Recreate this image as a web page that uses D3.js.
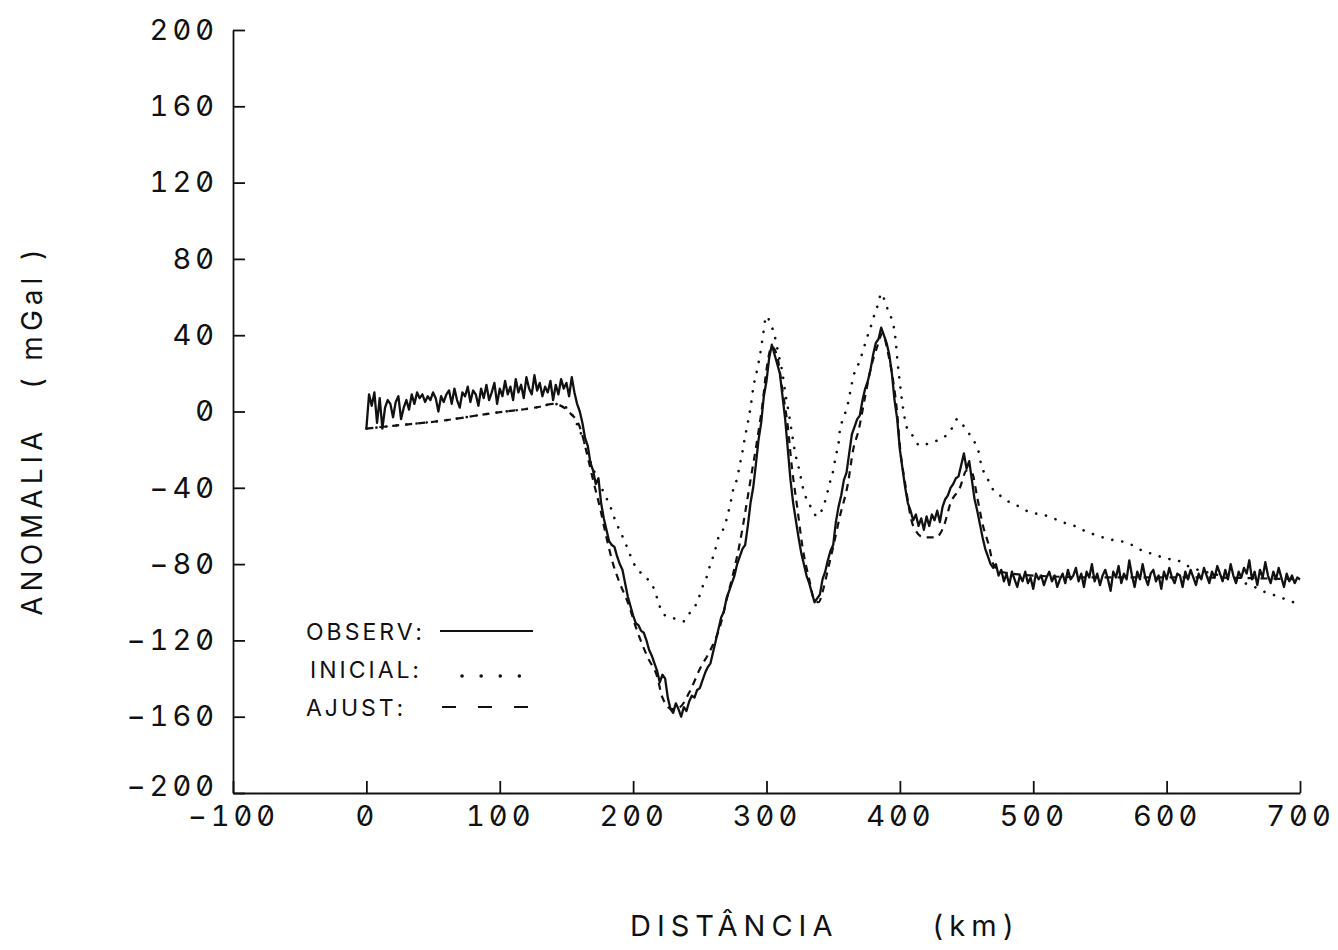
<!DOCTYPE html>
<html>
<head>
<meta charset="utf-8">
<script src="https://cdnjs.cloudflare.com/ajax/libs/d3/7.8.5/d3.min.js"></script>
<style>
  body { margin: 0; background: #fff; }
  svg text { font-family: Inter, "DejaVu Sans", sans-serif; font-feature-settings: "zero", "tnum"; fill: #111; white-space: pre; }
</style>
</head>
<body>
<div id="chart"></div>
<script>
// observed anomaly, one value every 2 km from 0 to 700 km
var obsStep = 2
var observed = [
  -9, 9, 3, 10, -6, 7, -9, 2, 6, 4,
  -3, 5, 8, -4, 2, 6, 1, 9, 4, 10,
  7, 9, 5, 8, 6, 10, 7, 0, 8, 5,
  9, 11, 4, 12, 6, 2, 10, 8, 13, 5,
  11, 9, 3, 12, 7, 14, 6, 10, 15, 4,
  12, 8, 16, 9, 13, 6, 17, 10, 14, 7,
  18, 12, 9, 19, 11, 15, 8, 13, 10, 16,
  6, 14, 9, 17, 12, 15, 8, 18,
  10, 4, 0, -6, -14, -18, -27, -31, -38, -35,
  -48, -56, -62, -68, -70, -71, -76, -80, -83, -90,
  -97, -102, -107, -111, -112, -115, -116, -120, -125, -128,
  -132, -136, -142, -138, -140, -150, -156, -158, -153, -156,
  -160, -155, -157, -152, -149, -150, -146, -145, -141, -137,
  -134, -132, -126, -120, -114, -108, -105, -98, -94, -90,
  -86, -80, -76, -72, -70, -60, -48, -40, -28, -15,
  -6, 8, 16, 28, 35, 30, 25, 20, 8, -4,
  -20, -36, -48, -57, -66, -74, -80, -86, -90, -95,
  -100, -98, -96, -88, -84, -78, -73, -70, -58, -50,
  -44, -36, -32, -22, -12, -8, -4, -2, 6, 12,
  16, 22, 30, 36, 38, 44, 40, 36, 30, 20,
  6, -4, -20, -30, -40, -48, -52, -57, -54, -60,
  -56, -62, -55, -60, -54, -57, -52, -58, -50, -46,
  -44, -40, -38, -35, -34, -28, -22, -30, -26, -36,
  -46, -52, -59, -66, -72, -76, -80, -82,
  -80, -86, -83, -89, -85, -91, -84, -88, -92, -86,
  -89, -84, -90, -87, -93, -85, -88, -86, -91, -87,
  -84, -89, -86, -92, -88, -85, -90, -83, -88, -86,
  -82, -89, -85, -92, -84, -87, -80, -89, -85, -91,
  -86, -83, -88, -94, -84, -87, -81, -90, -85, -88,
  -78, -86, -92, -84, -88, -80, -87, -91, -85, -83,
  -89, -86, -93, -84, -88, -82, -87, -90, -85, -86,
  -92, -84, -88, -83, -87, -91, -85, -88, -82, -86,
  -90, -84, -87, -81, -85, -89, -83, -88, -80, -86,
  -90, -84, -87, -82, -85, -78, -88, -84, -91, -83,
  -87, -79, -86, -90, -84, -88, -82, -87, -92, -85,
  -89, -86, -90, -87, -88
]

// initial model (dotted)
var initialKm = [0, 20, 55, 93, 130, 140, 150, 160, 170, 175, 179, 183, 186, 193, 196, 200, 205, 211, 215, 219, 222, 229, 238,
  243, 248, 252, 255, 258, 261, 264, 268, 271, 273, 275, 278, 280, 282, 284, 286, 288, 290, 293, 295, 297, 300,
  303, 306, 309, 312, 314, 316, 319, 321, 325, 327, 334, 338, 343, 348, 350, 352, 354, 355, 358, 361, 363, 365,
  369, 372, 375, 378, 381, 384, 386, 390, 394, 396, 397, 398, 400, 403, 405, 410, 415, 424, 432, 438, 443, 450,
  456, 459, 461, 465, 469, 475, 481, 490, 498, 507, 515, 522, 531, 540, 548, 557, 566, 574, 582, 591, 599, 608,
  616, 640, 666, 675, 684, 691, 700]
var initialVal = [-9, -7.5, -5, -1, 2.5, 4, 2, -10, -30, -38, -44, -50, -56, -67, -72, -79, -84, -88, -92, -100, -106, -108, -110,
  -105, -100, -92, -87, -80, -74, -66, -61, -54, -48, -41, -35, -28, -21, -13, -6, 2, 12, 22, 29, 38, 50,
  46, 40, 30, 20, 10, 2, -11, -20, -32, -39, -51, -55, -49, -36, -31, -23, -17, -10, -3, 4, 11, 18,
  25, 31, 38, 44, 51, 57, 62, 55, 48, 42, 36, 28, 15, -1, -8, -13, -18, -16, -14, -10, -4, -10,
  -16, -21, -28, -34, -40, -44, -47, -50, -53, -54, -56, -58, -60, -63, -65, -67, -68, -70, -73, -75, -77, -78,
  -81, -86, -92, -95, -97, -99, -101]

// adjusted model (dashed)
var adjustKm = [0, 20, 55, 93, 130, 140, 153, 160, 166, 170, 175, 180, 185, 190, 196, 203, 211, 218, 222, 229, 235,
  243, 250, 258, 265, 270, 275, 280, 284, 288, 293, 297, 300, 304, 308, 312, 316, 319, 323, 327, 332, 336, 339,
  343, 346, 350, 355, 361, 365, 369, 374, 378, 383, 387, 391, 395, 398, 400, 404, 410, 418, 427, 433, 438, 445,
  450, 454, 458, 462, 467, 470, 476, 500, 550, 620, 700]
var adjustVal = [-9, -7.5, -5, -1, 2.5, 4, -1, -8, -24, -36, -50, -66, -80, -90, -100, -115, -129, -139, -150, -156, -155,
  -146, -135, -125, -113, -99, -85, -69, -53, -36, -15, 4, 22, 34, 29, 11, -8, -29, -50, -71, -88, -99, -100,
  -92, -83, -71, -55, -38, -20, -10, 8, 22, 34, 41, 31, 16, -1, -18, -38, -60, -66, -66, -60, -48, -40,
  -31, -32, -45, -59, -71, -80, -84, -86, -87, -87, -88]

var xTicks = [-100, 0, 100, 200, 300, 400, 500, 600, 700]
var yTicks = [-200, -160, -120, -80, -40, 0, 40, 80, 120, 160, 200]

var legendItems = [
  { name: "OBSERV:", style: "solid" },
  { name: "INICIAL:", style: "dot" },
  { name: "AJUST:", style: "dash" }
]

const width = 1338
const height = 950

const svg = d3.select("#chart").append("svg")
  .attr("width", width)
  .attr("height", height)

const x = d3.scaleLinear().domain([-100, 700]).range([233, 1300])
const y = d3.scaleLinear().domain([-200, 200]).range([793, 30])

// axes
const yAxis = d3.axisLeft(y)
  .tickValues(yTicks)
  .tickSizeInner(-12)
  .tickSizeOuter(0)
  .tickPadding(15)
  .tickFormat(d3.format("d"))

const xAxis = d3.axisBottom(x)
  .tickValues(xTicks)
  .tickSizeInner(-12)
  .tickSizeOuter(0)
  .tickPadding(17)
  .tickFormat(d3.format("d"))

const gy = svg.append("g").attr("transform", "translate(233,0)").call(yAxis)
const gx = svg.append("g").attr("transform", "translate(0,793)").call(xAxis)

svg.selectAll(".domain, .tick line")
  .attr("stroke", "#111")
  .attr("stroke-width", 1.8)

gy.selectAll("text")
  .attr("font-size", 29)
  .attr("letter-spacing", 4)
  .attr("fill", "#111")
// bottom label sits a little higher so it clears the -100 below it
gy.selectAll("text")
  .filter(function(d) { return d == -200 })
  .attr("dy", "0.1em")

gx.selectAll("text")
  .attr("font-size", 29)
  .attr("letter-spacing", 4)
  .attr("fill", "#111")
  .attr("dy", "0.55em")

// axis titles
svg.append("text")
  .attr("transform", "translate(42,430) rotate(-90)")
  .attr("text-anchor", "middle")
  .attr("font-size", 28)
  .attr("letter-spacing", 5)
  .text("ANOMALIA   ( mGal )")

svg.append("text")
  .attr("x", 630)
  .attr("y", 936)
  .attr("font-size", 29)
  .attr("letter-spacing", 6)
  .text("DISTÂNCIA")

svg.append("text")
  .attr("x", 932)
  .attr("y", 936)
  .attr("font-size", 29)
  .attr("letter-spacing", 6)
  .text("(km)")

// curves
const obsLine = d3.line()
  .x(function(d, i) { return x(i * obsStep) })
  .y(function(d) { return y(d) })

const pairLine = d3.line()
  .x(function(d) { return x(d[0]) })
  .y(function(d) { return y(d[1]) })
  .curve(d3.curveMonotoneX)

svg.append("path")
  .datum(d3.zip(initialKm, initialVal))
  .attr("d", pairLine)
  .attr("fill", "none")
  .attr("stroke", "#111")
  .attr("stroke-width", 2.6)
  .attr("stroke-linecap", "round")
  .attr("stroke-dasharray", "0.1,10")

svg.append("path")
  .datum(d3.zip(adjustKm, adjustVal))
  .attr("d", pairLine)
  .attr("fill", "none")
  .attr("stroke", "#111")
  .attr("stroke-width", 2.2)
  .attr("stroke-dasharray", "7,6")

svg.append("path")
  .datum(observed)
  .attr("d", obsLine)
  .attr("fill", "none")
  .attr("stroke", "#111")
  .attr("stroke-width", 2.3)
  .attr("stroke-linejoin", "round")

// legend
const legend = svg.append("g").selectAll("g")
  .data(legendItems)
  .enter()
  .append("g")
  .attr("transform", function(d, i) { return "translate(0," + (640 + i * 38) + ")" })

legend.append("text")
  .attr("x", function(d) { return d.style == "dot" ? 310 : 306 })
  .attr("y", 0)
  .attr("font-size", 23)
  .attr("letter-spacing", 3)
  .text(function(d) { return d.name })

legend.append("line")
  .attr("x1", function(d) { return d.style == "solid" ? 440 : (d.style == "dot" ? 462 : 442) })
  .attr("x2", 533)
  .attr("y1", function(d) { return d.style == "dot" ? -2 : -9 })
  .attr("y2", function(d) { return d.style == "dot" ? -2 : -9 })
  .attr("stroke", "#111")
  .attr("stroke-width", function(d) { return d.style == "dot" ? 3.5 : 2 })
  .attr("stroke-linecap", function(d) { return d.style == "dot" ? "round" : "butt" })
  .attr("stroke-dasharray", function(d) {
    if (d.style == "dot") return "0.1,19"
    if (d.style == "dash") return "14,22"
    return null
  })
</script>
</body>
</html>
